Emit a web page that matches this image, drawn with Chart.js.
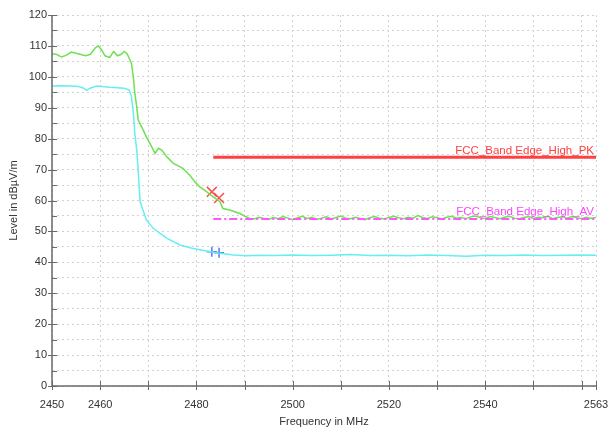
<!DOCTYPE html>
<html>
<head>
<meta charset="utf-8">
<script src="https://cdn.jsdelivr.net/npm/chart.js@4.4.1/dist/chart.umd.min.js"></script>
<style>
  html, body { margin: 0; padding: 0; background: #fff; }
  #wrap { width: 609px; height: 433px; position: relative; }
</style>
</head>
<body>
<div id="wrap"><canvas id="chart"></canvas></div>
<script>
// Peak trace (green)
const pkFreq = [2450, 2451, 2452, 2453, 2454, 2455, 2456, 2457, 2458, 2459, 2459.6, 2460.3, 2461, 2462, 2462.8,
  2463.6, 2464.3, 2465, 2465.6, 2466.5, 2466.9, 2467.2, 2467.6, 2467.9, 2468.6, 2469.6, 2470.7, 2471.4, 2472.1,
  2472.8, 2473.8, 2475.2, 2477.2, 2478.6, 2479.7, 2480.7, 2482.1, 2483.5, 2484.9, 2485.5, 2486.9, 2489, 2491,
  2492, 2493, 2494, 2495, 2496, 2497, 2498, 2499, 2500, 2501, 2502, 2503, 2504, 2505, 2506, 2507, 2508, 2509,
  2510, 2511, 2512, 2513, 2514, 2515, 2516, 2517, 2518, 2519, 2520, 2521, 2522, 2523, 2524, 2525, 2526, 2527,
  2528, 2529, 2530, 2531, 2532, 2533, 2534, 2535, 2536, 2537, 2538, 2539, 2540, 2541, 2542, 2543, 2544, 2545,
  2546, 2547, 2548, 2549, 2550, 2551, 2552, 2553, 2554, 2555, 2556, 2557, 2558, 2559, 2560, 2561, 2562, 2563];
const pkLevel = [107.5, 107.2, 106.4, 107.0, 108.0, 107.6, 107.2, 106.8, 107.3, 109.4, 110.0, 108.8, 106.8, 106.3, 108.2,
  106.8, 107.2, 108.2, 107.5, 104.4, 100.0, 94.7, 90.3, 86.0, 83.9, 80.6, 77.4, 75.2, 76.9,
  76.3, 74.2, 72.0, 70.4, 68.2, 66.0, 64.4, 62.9, 61.2, 59.6, 57.4, 56.9, 55.8, 54.2,
  54.0, 54.6, 54.2, 53.9, 54.5, 54.1, 54.8, 54.3, 53.8, 54.4, 54.9, 54.2, 54.6, 53.9, 54.3, 54.7, 54.0, 54.5,
  55.0, 54.3, 54.1, 54.6, 54.2, 53.8, 54.4, 54.8, 54.3, 54.0, 54.5, 54.9, 54.4, 54.1, 54.6, 54.3, 55.1, 54.5,
  54.2, 54.7, 54.4, 54.0, 54.6, 54.9, 54.3, 54.5, 54.1, 54.7, 55.0, 54.4, 54.2, 54.8, 54.5, 54.1, 54.6, 54.9,
  54.3, 54.0, 54.5, 54.8, 54.2, 54.6, 54.4, 54.9, 54.1, 54.5, 54.7, 54.3, 54.8, 54.4, 54.1, 54.6, 54.3, 54.5];

// Average trace (cyan)
const avFreq = [2450, 2452, 2454, 2455.5, 2456.5, 2457.2, 2458, 2459.3, 2462, 2465, 2466, 2466.5, 2466.9, 2467.2,
  2467.6, 2467.9, 2468.3, 2469.6, 2471, 2473.8, 2476.6, 2479.3, 2482.1, 2484.9, 2487.7, 2490.4, 2493,
  2496, 2500, 2504, 2508, 2512, 2516, 2520, 2524, 2528, 2532, 2536, 2540, 2544, 2548, 2552, 2556, 2560, 2563];
const avLevel = [97.0, 97.1, 97.0, 96.9, 96.4, 95.6, 96.4, 97.0, 96.6, 96.3, 95.8, 93.6, 88.2, 81.7,
  76.3, 69.9, 59.6, 53.7, 51.0, 47.8, 45.6, 44.5, 43.7, 42.9, 42.4, 42.1, 42.3,
  42.2, 42.4, 42.2, 42.3, 42.5, 42.2, 42.3, 42.1, 42.4, 42.2, 42.0, 42.3, 42.2, 42.4, 42.2, 42.3, 42.4, 42.3];

// Limit lines
const limitFreq = [2483.5, 2563];
const pkLimit = [74, 74];
const avLimit = [54, 54];
const pkLimitName = 'FCC_Band Edge_High_PK';
const avLimitName = 'FCC_Band Edge_High_AV';

// Markers
const pkMarkFreq = [2483.2, 2484.7];
const pkMarkLevel = [62.8, 60.8];
const avMarkFreq = [2483.2, 2484.7];
const avMarkLevel = [43.4, 43.1];

// Axes
const xTicks = [2450, 2460, 2470, 2480, 2490, 2500, 2510, 2520, 2530, 2540, 2550, 2560, 2563];
const xTickLabels = [2450, 2460, 2480, 2500, 2520, 2540, 2563];
const yMin = 0, yMax = 120;

const FONT = "'Liberation Sans', Arial, sans-serif";
const pts = (xs, ys) => xs.map((x, i) => ({ x: x, y: ys[i] }));

// Axis lines, tick marks and limit names
const axisPlugin = {
  id: 'axisPlugin',
  afterDraw(chart) {
    const ctx = chart.ctx;
    const a = chart.chartArea;
    const xs = chart.scales.x, ys = chart.scales.y;
    ctx.save();
    ctx.strokeStyle = '#6a6a6a';
    ctx.lineWidth = 1.5;
    ctx.beginPath();
    ctx.moveTo(a.left, a.top);
    ctx.lineTo(a.left, a.bottom);
    ctx.lineTo(a.right, a.bottom);
    ctx.stroke();
    ctx.lineWidth = 1;
    ctx.beginPath();
    ys.ticks.forEach(t => {
      const y = Math.round(ys.getPixelForValue(t.value)) + 0.5;
      const major = t.value % 10 === 0;
      ctx.moveTo(a.left - (major ? 4 : 0), y);
      ctx.lineTo(a.left + 5, y);
    });
    xTicks.forEach(v => {
      const x = Math.round(xs.getPixelForValue(v)) + 0.5;
      ctx.moveTo(x, a.bottom - 5);
      ctx.lineTo(x, a.bottom + 4);
    });
    ctx.stroke();

    ctx.font = '11.5px ' + FONT;
    ctx.textAlign = 'right';
    ctx.textBaseline = 'bottom';
    const xr = xs.getPixelForValue(limitFreq[1]) - 2;
    ctx.fillStyle = '#ff4040';
    ctx.fillText(pkLimitName, xr, ys.getPixelForValue(pkLimit[0]) - 1);
    ctx.fillStyle = '#ff44ff';
    ctx.fillText(avLimitName, xr, ys.getPixelForValue(avLimit[0]) - 1);
    ctx.restore();
  }
};

new Chart(document.getElementById('chart'), {
  type: 'line',
  data: {
    datasets: [
      { data: pts(limitFreq, avLimit), borderColor: '#ff55ff', borderWidth: 2, borderDash: [8, 3, 2, 3], pointRadius: 0 },
      { data: pts(limitFreq, pkLimit), borderColor: '#ff4040', borderWidth: 3, pointRadius: 0 },
      { data: pts(avFreq, avLevel), borderColor: '#66eef2', borderWidth: 1.5, pointRadius: 0 },
      { data: pts(pkFreq, pkLevel), borderColor: '#6fe052', borderWidth: 1.5, pointRadius: 0 },
      { data: pts(pkMarkFreq, pkMarkLevel), showLine: false, pointStyle: 'crossRot', pointRadius: 7,
        borderColor: '#ff4a4a', borderWidth: 1.5 },
      { data: pts(avMarkFreq, avMarkLevel), showLine: false, pointStyle: 'cross', pointRadius: 5,
        borderColor: '#4a7aff', borderWidth: 1.5 }
    ]
  },
  options: {
    responsive: true,
    maintainAspectRatio: false,
    animation: false,
    layout: { padding: { left: 0, right: 0, top: 15, bottom: 0 } },
    plugins: { legend: { display: false }, tooltip: { enabled: false } },
    elements: { line: { tension: 0 } },
    scales: {
      x: {
        type: 'linear',
        min: 2450,
        max: 2563,
        afterBuildTicks: s => { s.ticks = xTicks.map(v => ({ value: v })); },
        afterFit: s => { s.height = 47; s.paddingLeft = 0; s.paddingRight = 13; },
        grid: { color: '#d2d2d2', drawTicks: false },
        border: { display: false, dash: [2, 3] },
        ticks: {
          autoSkip: false,
          maxRotation: 0,
          padding: 12,
          color: '#333',
          font: { family: FONT, size: 11 },
          callback: v => xTickLabels.includes(v) ? String(v) : ''
        },
        title: { display: true, text: 'Frequency in MHz', color: '#333',
          font: { family: FONT, size: 11 }, padding: { top: 0, bottom: 4 } }
      },
      y: {
        min: yMin,
        max: yMax,
        afterFit: s => { s.width = 52; },
        grid: { color: '#d2d2d2', drawTicks: false },
        border: { display: false, dash: [2, 3] },
        ticks: {
          stepSize: 5,
          autoSkip: false,
          padding: 5,
          color: '#333',
          font: { family: FONT, size: 11 },
          callback: v => v % 10 === 0 ? String(v) : ''
        },
        title: { display: true, text: 'Level in dBµV/m', color: '#333',
          font: { family: FONT, size: 11 }, padding: { top: 7, bottom: 0 } }
      }
    }
  },
  plugins: [axisPlugin]
});
</script>
</body>
</html>
